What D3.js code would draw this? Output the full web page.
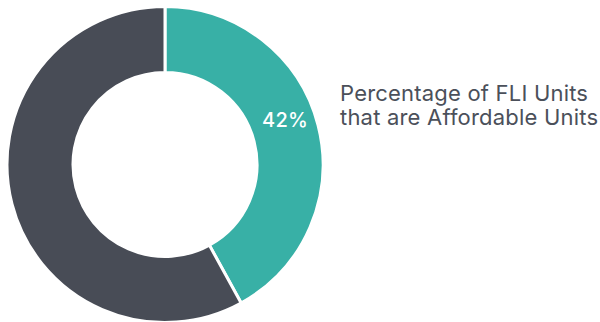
<!DOCTYPE html>
<html>
<head>
<meta charset="utf-8">
<script src="https://cdn.jsdelivr.net/npm/d3@7"></script>
<style>
  html, body { margin: 0; padding: 0; background: #ffffff; }
  svg { display: block; }
</style>
</head>
<body>
<svg id="chart" width="600" height="322"></svg>
<script>
// Share of FLI units that are affordable
const categories = ["Affordable Units", "Other FLI Units"];
const values = [42, 58];
const colors = ["#38b0a6", "#484c56"];
const titleLines = ["Percentage of FLI Units", "that are Affordable Units"];

const svg = d3.select("#chart");
const cx = 165, cy = 164.5;
const outerR = 158, innerR = 92;

const pie = d3.pie().sort(null).value(d => d.value);
const arcs = pie(categories.map((c, i) => ({ name: c, value: values[i] })));

const arc = d3.arc().innerRadius(innerR).outerRadius(outerR);

const g = svg.append("g").attr("transform", `translate(${cx},${cy})`);

g.selectAll("path")
  .data(arcs)
  .join("path")
  .attr("d", arc)
  .attr("fill", (d, i) => colors[i])
  .attr("stroke", "#ffffff")
  .attr("stroke-width", 3)
  .attr("stroke-linejoin", "miter");

// Value label on the affordable slice
const first = arcs[0];
const [lx, ly] = arc.centroid(first);
g.append("text")
  .attr("x", lx - 1)
  .attr("y", ly - 6.5)
  .attr("text-anchor", "middle")
  .attr("font-family", "Inter, 'Noto Sans', sans-serif")
  .attr("font-size", 20)
  .attr("font-weight", 500)
  .attr("letter-spacing", 0.3)
  .attr("fill", "#ffffff")
  .text(d3.format(".0f")(first.data.value) + "%");

// Title beside the chart
const title = svg.append("text")
  .attr("x", 340)
  .attr("y", 101)
  .attr("font-family", "Inter, 'Noto Sans', sans-serif")
  .attr("font-size", 22)
  .attr("letter-spacing", 0.2)
  .attr("fill", "#4b505a");

title.selectAll("tspan")
  .data(titleLines)
  .join("tspan")
  .attr("x", 340)
  .attr("dy", (d, i) => i === 0 ? 0 : 24)
  .text(d => d);
</script>
</body>
</html>
